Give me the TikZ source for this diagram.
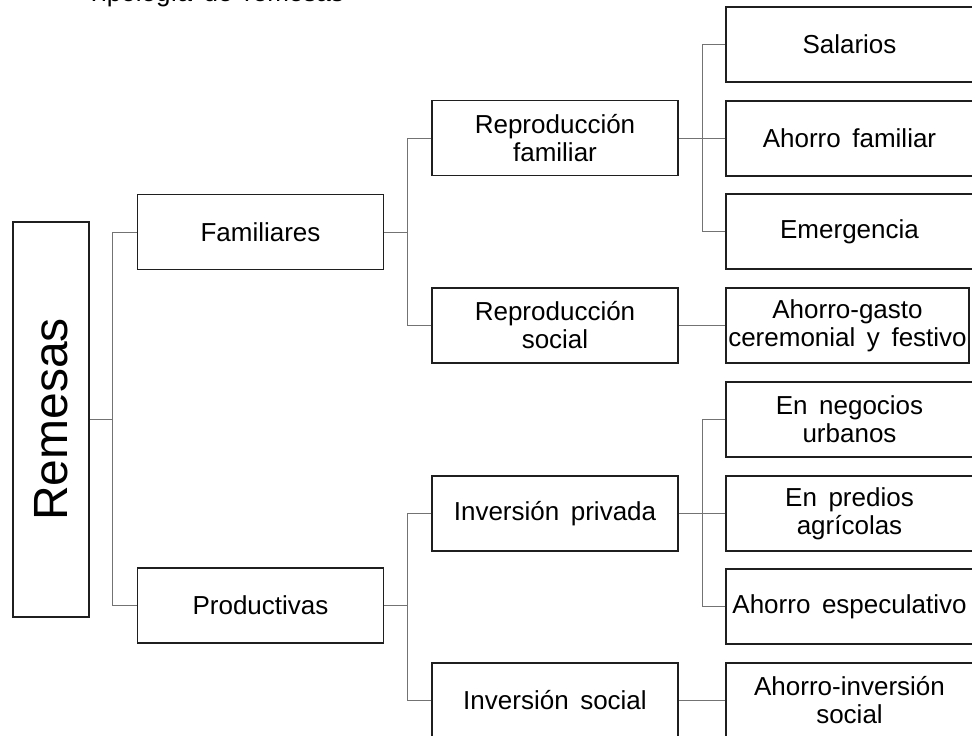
\documentclass[tikz,border=0pt]{standalone}
\usepackage{fontspec}
\usepackage{graphicx}
\setmainfont{Liberation Sans}[WordSpace={1.6}]
\begin{document}
\begin{tikzpicture}[x=1pt,y=-1pt,
  box/.style={draw=black!88, line width=1.4pt, minimum width=246pt, minimum height=75pt,
    inner sep=0pt, align=center, font=\fontsize{26}{28}\selectfont},
  wide/.style={box, minimum width=247pt},
  conn/.style={draw=black!55, line width=1pt}]
\useasboundingbox (0,0) rectangle (972,736);
\clip (0,0) rectangle (972,736);

% caption line, cut off at the top edge
\node[anchor=base west, inner sep=0pt, font=\fontsize{26}{28}\selectfont] (title) at (86,1.5) {Tipología de remesas};

% root
\node[box, minimum width=76pt, minimum height=395pt] (rem) at (51,419.5)
  {\rotatebox{90}{\fontsize{48}{48}\selectfont Remesas}};

% second level
\node[box] (fam)  at (260.5,232)   {Familiares};
\node[box] (prod) at (260.5,605.5) {Productivas};

% third level
\node[box] (rfam)  at (555,138)   {Reproducción\\familiar};
\node[box] (rsoc)  at (555,325.5) {Reproducción\\social};
\node[box] (ipriv) at (555,513.5) {Inversión privada};
\node[box] (isoc)  at (555,700.5) {Inversión social};

% leaves
\node[wide] (sal)  at (849.5,44.5)  {Salarios};
\node[wide] (ahf)  at (849.5,138.5) {Ahorro familiar};
\node[wide] (emer) at (849.5,231.5) {Emergencia};
\node[box, minimum width=243pt] (ahg) at (847.5,325.5) {Ahorro-gasto\\ceremonial y festivo};
\node[wide] (neg)  at (849.5,419.5) {En negocios\\urbanos};
\node[wide] (pred) at (849.5,513.5) {En predios\\agrícolas};
\node[wide] (esp)  at (849.5,606.5) {Ahorro especulativo};
\node[wide] (ainv) at (849.5,700.5) {Ahorro-inversión\\social};

% connectors
\draw[conn] (fam.west)  -- ++(-24,0) |- (rem.east);
\draw[conn] (prod.west) -- ++(-24,0) |- (rem.east);

\draw[conn] (rfam.west)  -- ++(-24,0) |- (fam.east);
\draw[conn] (rsoc.west)  -- ++(-24,0) |- (fam.east);
\draw[conn] (ipriv.west) -- ++(-24,0) |- (prod.east);
\draw[conn] (isoc.west)  -- ++(-24,0) |- (prod.east);

\draw[conn] (sal.west)  -- ++(-23,0) |- (rfam.east);
\draw[conn] (ahf.west)  -- ++(-23,0) |- (rfam.east);
\draw[conn] (emer.west) -- ++(-23,0) |- (rfam.east);
\draw[conn] (ahg.west)  -- (rsoc.east);

\draw[conn] (neg.west)  -- ++(-23,0) |- (ipriv.east);
\draw[conn] (pred.west) -- ++(-23,0) |- (ipriv.east);
\draw[conn] (esp.west)  -- ++(-23,0) |- (ipriv.east);
\draw[conn] (ainv.west) -- (isoc.east);
\end{tikzpicture}
\end{document}
